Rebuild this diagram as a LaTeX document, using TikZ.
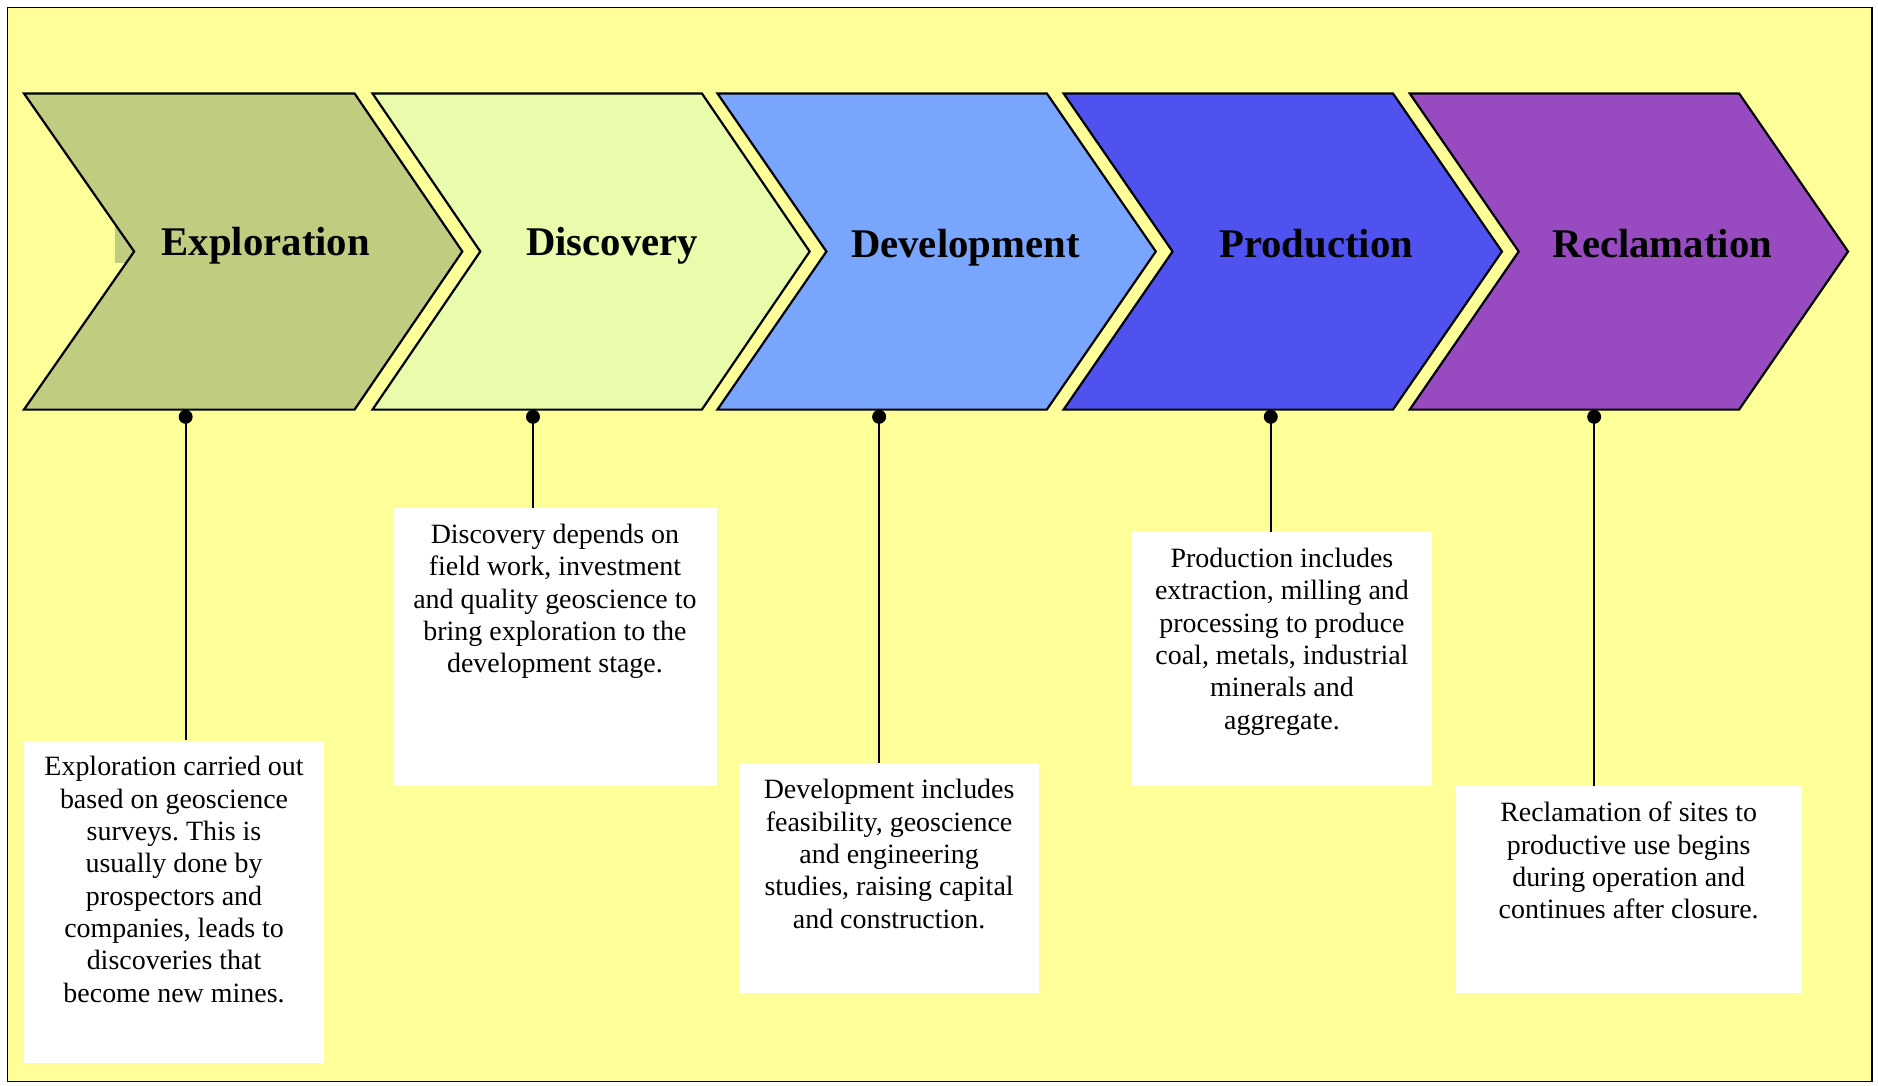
\documentclass[tikz,border=0pt]{standalone}
\usepackage{fontspec}
\setmainfont{Liberation Serif}
\usetikzlibrary{positioning}
\frenchspacing

\definecolor{bgyellow}{RGB}{255,255,153}
\definecolor{explcol}{RGB}{192,204,128}
\definecolor{disccol}{RGB}{232,252,172}
\definecolor{devcol}{RGB}{122,165,252}
\definecolor{prodcol}{RGB}{80,82,240}
\definecolor{reclcol}{RGB}{152,74,192}

\begin{document}
\begin{tikzpicture}[
		x=0.6pt, y=-0.6pt,
		chevron/.style={draw=black, line width=1.1pt, line join=miter},
		stage/.style={font=\fontsize{20.4}{24}\selectfont\bfseries, inner sep=0pt, anchor=base},
		descbox/.style={fill=white, inner sep=0pt, anchor=north west},
		desctext/.style={align=center, font=\fontsize{14}{16.2}\selectfont, inner sep=0pt, anchor=north},
		pindot/.style={circle, fill=black, inner sep=0pt, minimum size=7pt},
		pinline/.style={line width=1pt}
		]
		% Frame
		\useasboundingbox (0,0) rectangle (1568,906);
		\fill[white] (0,0) rectangle (1568,906);
		\draw[fill=bgyellow, line width=0.6pt] (6,6) rectangle (1563,903);
		
		% Chevrons
		\fill[explcol] (96,185) rectangle (112,220);
		\filldraw[chevron, fill=explcol] (20,78) -- (296,78) -- (386,210) -- (296,342) -- (20,342) -- (112,210) -- cycle;
		\filldraw[chevron, fill=disccol] (311,78) -- (586,78) -- (676,210) -- (586,342) -- (311,342) -- (401,210) -- cycle;
		\filldraw[chevron, fill=devcol] (599,78) -- (874,78) -- (965,210) -- (874,342) -- (599,342) -- (690,210) -- cycle;
		\filldraw[chevron, fill=prodcol] (888,78) -- (1163,78) -- (1254,210) -- (1163,342) -- (888,342) -- (979,210) -- cycle;
		\filldraw[chevron, fill=reclcol] (1177,78) -- (1452,78) -- (1543,210) -- (1452,342) -- (1177,342) -- (1268,210) -- cycle;
		
		\node[stage] (explo) at (222,213) {Exploration};
		\node[stage] (disco) at (511,213) {Discovery};
		\node[stage] (devel) at (806,215) {Development};
		\node[stage] (produ) at (1099,215) {Production};
		\node[stage] (recla) at (1388,215) {Reclamation};
		
		% Description boxes
		\node[descbox, minimum width=150pt, minimum height=161.4pt] (explobox) at (20,618) {};
		\node[descbox, minimum width=162pt, minimum height=139.2pt] (discobox) at (328,424) {};
		\node[descbox, minimum width=150pt, minimum height=115.2pt] (develbox) at (617,637) {};
		\node[descbox, minimum width=150pt, minimum height=127.2pt] (produbox) at (945,444) {};
		\node[descbox, minimum width=173.4pt, minimum height=103.8pt] (reclabox) at (1215,656) {};
		
		\node[desctext, below=8pt of explobox.north] (explotext) {Exploration carried out\\based on geoscience\\surveys. This is\\usually done by\\prospectors and\\companies, leads to\\discoveries that\\become new mines.};
		\node[desctext, below=8pt of discobox.north] (discotext) {Discovery depends on\\field work, investment\\and quality geoscience to\\bring exploration to the\\development stage.};
		\node[desctext, below=8pt of develbox.north] (develtext) {Development includes\\feasibility, geoscience\\and engineering\\studies, raising capital\\and construction.};
		\node[desctext, below=8pt of produbox.north] (produtext) {Production includes\\extraction, milling and\\processing to produce\\coal, metals, industrial\\minerals and\\aggregate.};
		\node[desctext, below=8pt of reclabox.north] (reclatext) {Reclamation of sites to\\productive use begins\\during operation and\\continues after closure.};
		
		% Pins
		\node[pindot] (explopin) at (155,348) {};
		\node[pindot] (discopin) at (445,348) {};
		\node[pindot] (develpin) at (734,348) {};
		\node[pindot] (produpin) at (1061,348) {};
		\node[pindot] (reclapin) at (1331,348) {};
		
		\draw[pinline] (explopin.center) -- (explopin |- explobox.north);
		\draw[pinline] (discopin.center) -- (discopin |- discobox.north);
		\draw[pinline] (develpin.center) -- (develpin |- develbox.north);
		\draw[pinline] (produpin.center) -- (produpin |- produbox.north);
		\draw[pinline] (reclapin.center) -- (reclapin |- reclabox.north);
	\end{tikzpicture}
\end{document}
